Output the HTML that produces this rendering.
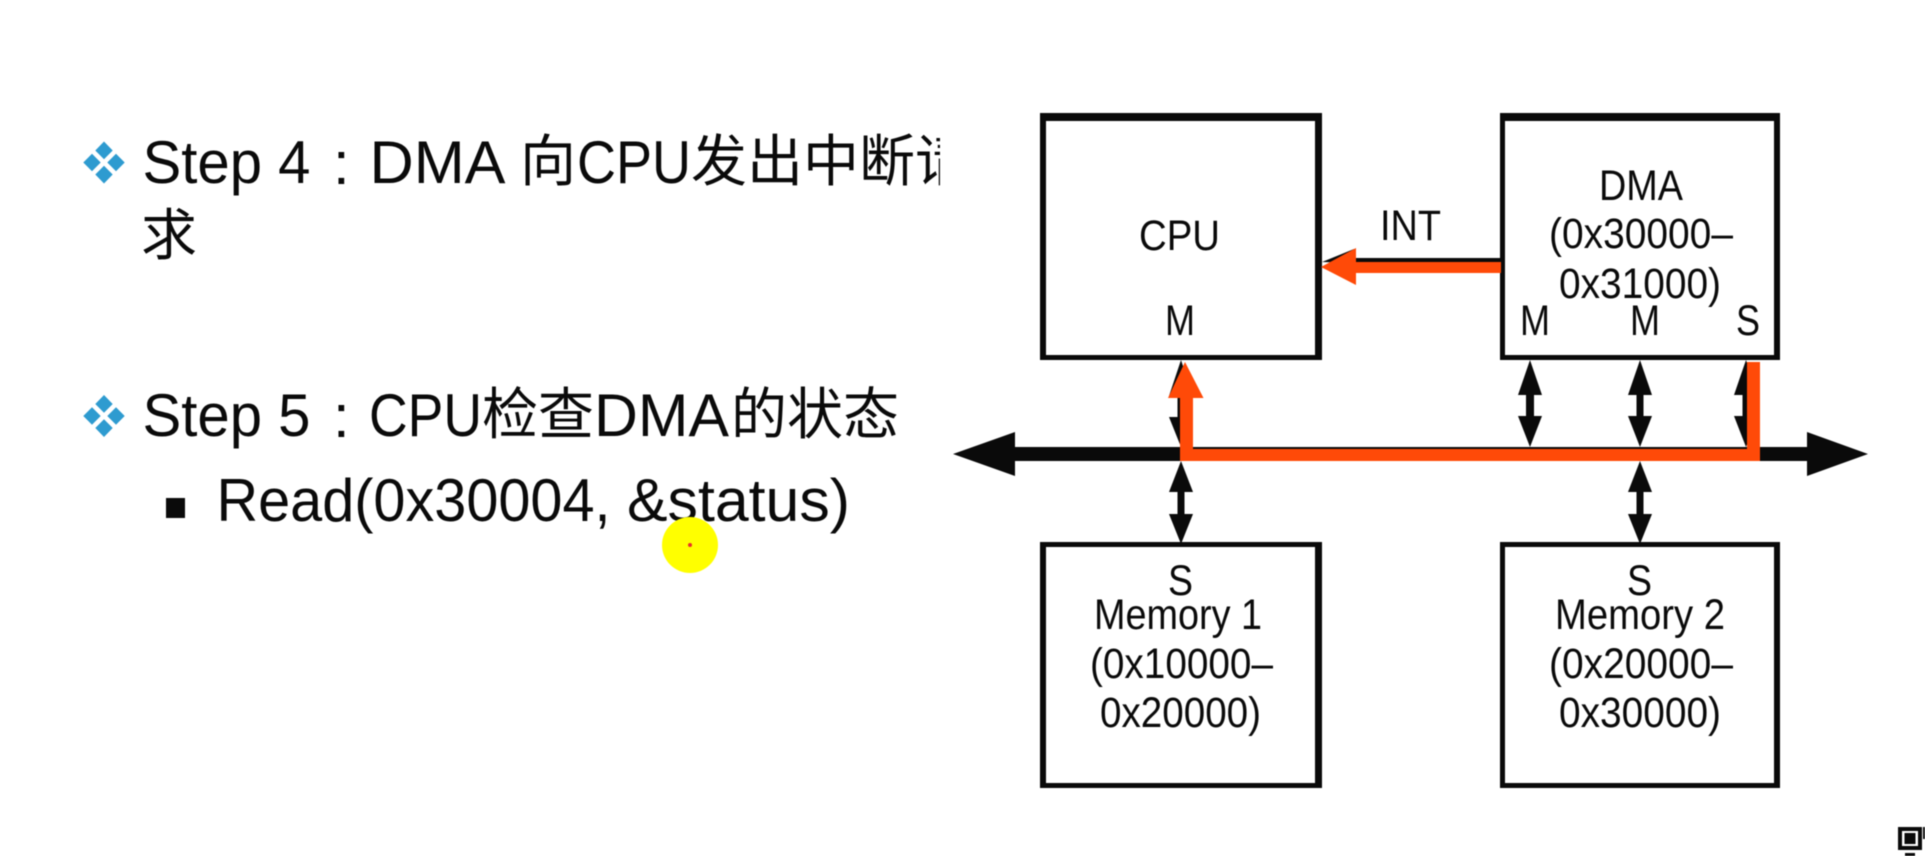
<!DOCTYPE html>
<html><head><meta charset="utf-8"><style>
html,body{margin:0;padding:0;background:#fff;width:1925px;height:856px;overflow:hidden}
svg{display:block;filter:blur(0.4px)}
text{font-family:"Liberation Sans","Noto Sans CJK SC",sans-serif;fill:#0a0a0a}
.d text{font-size:43px;text-anchor:start}
.l text{font-size:60px}
.c{font-size:56px!important}
</style></head><body>
<svg width="1925" height="856" viewBox="0 0 1925 856" xmlns="http://www.w3.org/2000/svg">
<defs>
<clipPath id="cl"><rect x="0" y="100" width="940" height="110"/></clipPath>
<g id="dm" fill="#2e9bd0">
<path d="M0-21L8.700-12 0-3.300-8.700-12Z"/>
<path d="M-12-8.700L-3.300 0-12 8.700-20.700 0Z"/>
<path d="M12-8.700L20.700 0 12 8.700 3.300 0Z"/>
<path d="M0 3.300L8.700 12 0 21-8.700 12Z"/>
</g>
</defs>
<g class="l">
<use href="#dm" x="104" y="162.500"/><use href="#dm" x="104" y="416"/>
<g clip-path="url(#cl)">
<text x="142.500" y="183" textLength="168" lengthAdjust="spacingAndGlyphs">Step 4</text>
<text x="333" y="184">:</text>
<text x="369.500" y="183" textLength="136" lengthAdjust="spacingAndGlyphs">DMA</text>
<text class="c" x="520" y="181">向</text>
<text x="577" y="183" textLength="114" lengthAdjust="spacingAndGlyphs">CPU</text>
<text class="c" x="691" y="181">发出中断请</text>
</g>
<text class="c" x="141" y="255">求</text>
<text x="142.500" y="436" textLength="168" lengthAdjust="spacingAndGlyphs">Step 5</text>
<text x="333" y="437">:</text>
<text x="369" y="436" textLength="113" lengthAdjust="spacingAndGlyphs">CPU</text>
<text class="c" x="482" y="434">检查</text>
<text x="594" y="436" textLength="135" lengthAdjust="spacingAndGlyphs">DMA</text>
<text class="c" x="731" y="434">的状态</text>
<text x="216.500" y="521" textLength="394" lengthAdjust="spacingAndGlyphs">Read(0x30004,</text>
<text x="627" y="521" textLength="223" lengthAdjust="spacingAndGlyphs">&amp;status)</text>
<rect x="166" y="498" width="19" height="20" fill="#0a0a0a"/>
</g>
<circle cx="690" cy="545" r="28" fill="#ffff00"/>
<circle cx="690" cy="545" r="2" fill="#e8302a"/>

<!-- boxes: outer black, inner white -->
<g fill="#0a0a0a">
<rect x="1040" y="113" width="282" height="247"/>
<rect x="1500" y="113" width="280" height="247"/>
<rect x="1040" y="542" width="282" height="246"/>
<rect x="1500" y="542" width="280" height="246"/>
</g>
<g fill="#fff">
<rect x="1046" y="121" width="269" height="234"/>
<rect x="1505" y="121" width="269" height="234"/>
<rect x="1046" y="547" width="269" height="236"/>
<rect x="1505" y="547" width="269" height="236"/>
</g>

<g fill="#0a0a0a">
<path d="M953 454L1015 432V447H1807V432L1868 454 1807 476V461H1015V476Z"/>
<path d="M1322 262L1354 249V258H1502V263H1356Z"/>
<!-- double arrows -->
<path d="M1181 360L1193 396H1184.500V417H1193L1181 447 1169 417H1177.500V396H1169Z"/>
<path d="M1530 360L1542 395H1534V416H1542L1530 447 1518 416H1526V395H1518Z"/>
<path d="M1640 360L1652 395H1643.500V416H1652L1640 447 1628 416H1636.500V395H1628Z"/>
<path d="M1746 360L1758 395H1749.500V416H1758L1746 447 1734 416H1742.500V395H1734Z"/>
<path d="M1181 461L1193 492H1184.500V514H1193L1181 544 1169 514H1177.500V492H1169Z"/>
<path d="M1640 461L1652 492H1643.500V514H1652L1640 544 1628 514H1636.500V492H1628Z"/>
</g>

<g fill="#ff4a08">
<path d="M1321 267L1356 248V262H1501V273H1356V285Z"/>
<path d="M1185 362L1203.500 398H1193V449H1747V362H1760V461H1180V398H1168Z"/>
</g>

<g class="d">
<text x="1139" y="250" textLength="81" lengthAdjust="spacingAndGlyphs">CPU</text>
<text x="1165" y="335" textLength="30" lengthAdjust="spacingAndGlyphs">M</text>
<text x="1380" y="240" textLength="61" lengthAdjust="spacingAndGlyphs">INT</text>
<text x="1599" y="200" textLength="84" lengthAdjust="spacingAndGlyphs">DMA</text>
<text x="1549" y="248" textLength="184" lengthAdjust="spacingAndGlyphs">(0x30000–</text>
<text x="1559" y="298" textLength="162" lengthAdjust="spacingAndGlyphs">0x31000)</text>
<text x="1520" y="335" textLength="30" lengthAdjust="spacingAndGlyphs">M</text>
<text x="1630" y="335" textLength="30" lengthAdjust="spacingAndGlyphs">M</text>
<text x="1736" y="335" textLength="24" lengthAdjust="spacingAndGlyphs">S</text>
<text x="1168" y="595" textLength="25" lengthAdjust="spacingAndGlyphs">S</text>
<text x="1094" y="629" textLength="168" lengthAdjust="spacingAndGlyphs">Memory 1</text>
<text x="1090" y="678" textLength="183" lengthAdjust="spacingAndGlyphs">(0x10000–</text>
<text x="1100" y="727" textLength="161" lengthAdjust="spacingAndGlyphs">0x20000)</text>
<text x="1627" y="595" textLength="25" lengthAdjust="spacingAndGlyphs">S</text>
<text x="1555" y="629" textLength="170" lengthAdjust="spacingAndGlyphs">Memory 2</text>
<text x="1549" y="678" textLength="184" lengthAdjust="spacingAndGlyphs">(0x20000–</text>
<text x="1559" y="727" textLength="162" lengthAdjust="spacingAndGlyphs">0x30000)</text>
</g>

<g fill="#0a0a0a">
<rect x="1900" y="829" width="20" height="19" fill="none" stroke="#0a0a0a" stroke-width="4"/>
<rect x="1904.500" y="833" width="11" height="11"/>
<rect x="1923" y="827" width="2" height="12"/>
<rect x="1905" y="853" width="10" height="3"/>
</g>
</svg>
</body></html>
